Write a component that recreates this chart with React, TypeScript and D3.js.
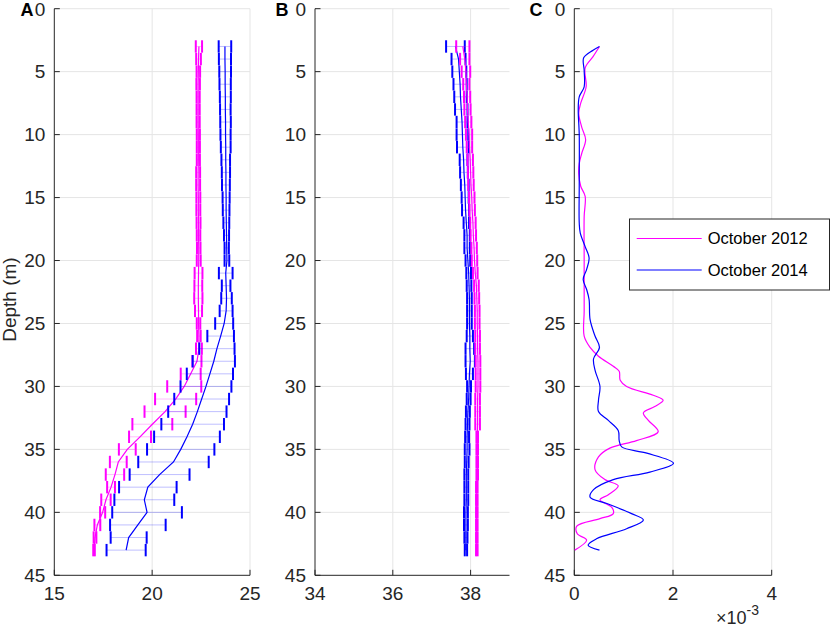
import * as d3 from "d3"
import { useEffect, useRef } from "react"

// depth of each profile bin (m)
const depths = [
  3, 4, 5, 6, 7, 8, 9, 10, 11, 12, 13, 14, 15, 16, 17, 18, 19, 20, 21, 22, 23,
  24, 25, 26, 27, 28, 29, 30, 31, 32, 33, 34, 35, 36, 37, 38, 39, 40, 41, 42, 43,
]

// A: temperature (mean and std) per depth
const temp2012 = [
  22.39, 22.37, 22.36, 22.35, 22.35, 22.35, 22.35, 22.36, 22.36, 22.36, 22.35,
  22.35, 22.36, 22.36, 22.37, 22.37, 22.38, 22.38, 22.37, 22.36, 22.36, 22.37,
  22.37, 22.39, 22.39, 22.29, 21.97, 21.64, 21.2, 20.66, 20.01, 19.38, 18.73,
  18.27, 18.1, 17.9, 17.64, 17.47, 17.2, 17.08, 17.03,
]
const tempSd2012 = [
  0.16, 0.12, 0.09, 0.09, 0.08, 0.08, 0.08, 0.08, 0.08, 0.08, 0.1, 0.1, 0.1,
  0.1, 0.1, 0.09, 0.09, 0.1, 0.2, 0.2, 0.21, 0.18, 0.09, 0.09, 0.15, 0.23, 0.51,
  0.87, 1.05, 1.05, 1.02, 0.56, 0.43, 0.43, 0.47, 0.2, 0.24, 0.13, 0.15, 0.07,
  0.04,
]
const temp2014 = [
  23.72, 23.72, 23.73, 23.73, 23.74, 23.74, 23.75, 23.75, 23.76, 23.76, 23.77,
  23.77, 23.78, 23.78, 23.79, 23.8, 23.81, 23.82, 23.76, 23.78, 23.8, 23.78,
  23.68, 23.5, 23.31, 23.15, 22.95, 22.75, 22.53, 22.31, 22.07, 21.78, 21.46,
  21.09, 20.38, 19.78, 19.6, 19.74, 19.27, 18.8, 18.67,
]
const tempSd2014 = [
  0.32, 0.31, 0.3, 0.29, 0.28, 0.27, 0.27, 0.26, 0.25, 0.22, 0.21, 0.2, 0.18,
  0.17, 0.15, 0.13, 0.11, 0.12, 0.35, 0.22, 0.27, 0.33, 0.46, 0.68, 0.9, 1.08,
  1.18, 1.3, 1.4, 1.49, 1.6, 1.68, 1.72, 1.8, 1.53, 1.47, 1.53, 1.78, 1.42,
  0.92, 1.0,
]

// B: salinity (mean and std) per depth
const sal2012 = [
  37.8, 37.85, 37.88, 37.89, 37.91, 37.92, 37.94, 37.96, 37.97, 37.99, 38.0,
  38.01, 38.03, 38.04, 38.06, 38.07, 38.09, 38.1, 38.12, 38.15, 38.16, 38.17,
  38.17, 38.18, 38.18, 38.19, 38.19, 38.19, 38.18, 38.18, 38.18, 38.17, 38.17,
  38.17, 38.17, 38.16, 38.16, 38.16, 38.16, 38.16, 38.16,
]
const salSd2012 = [
  0.17, 0.12, 0.11, 0.08, 0.08, 0.08, 0.08, 0.08, 0.07, 0.07, 0.07, 0.07, 0.07,
  0.07, 0.07, 0.07, 0.07, 0.07, 0.06, 0.06, 0.06, 0.06, 0.06, 0.06, 0.06, 0.06,
  0.06, 0.06, 0.06, 0.06, 0.06, 0.02, 0.02, 0.02, 0.02, 0.02, 0.02, 0.02, 0.02,
  0.02, 0.02,
]
const sal2014 = [
  37.61, 37.69, 37.71, 37.73, 37.74, 37.76, 37.78, 37.79, 37.8, 37.82, 37.83,
  37.85, 37.86, 37.87, 37.89, 37.91, 37.91, 37.93, 37.95, 37.96, 37.97, 37.97,
  37.97, 37.98, 37.98, 37.99, 37.97, 37.96, 37.95, 37.93, 37.92, 37.91, 37.91,
  37.9, 37.89, 37.89, 37.89, 37.88, 37.88, 37.88, 37.88,
]
const salSd2014 = [
  0.24, 0.18, 0.18, 0.17, 0.16, 0.16, 0.14, 0.15, 0.15, 0.1, 0.1, 0.1, 0.09,
  0.09, 0.07, 0.07, 0.07, 0.06, 0.06, 0.06, 0.06, 0.06, 0.06, 0.08, 0.11, 0.12,
  0.09, 0.05, 0.05, 0.05, 0.05, 0.05, 0.06, 0.05, 0.05, 0.05, 0.05, 0.05, 0.05,
  0.04, 0.03,
]

// C: smooth profiles (x10^-3), each with its own depths
const cDepth2012 = [
  3.0, 3.8, 4.7, 6.2, 7.5, 8.3, 9.4, 10.4, 11.5, 12.3, 13.1, 14.1, 14.9, 16.5,
  20, 24, 26, 26.9, 27.6, 28.4, 28.8, 29.5, 30, 30.7, 31.1, 31.6, 32.1, 32.7,
  33.6, 34.3, 34.9, 35.6, 36.6, 37.4, 37.9, 38.6, 39.0, 39.6, 40.1, 40.5, 41.1,
  41.7, 42.2, 43.0,
]
const cValue2012 = [
  0.51, 0.38, 0.22, 0.24, 0.13, 0.09, 0.15, 0.23, 0.15, 0.1, 0.09, 0.13, 0.22,
  0.2, 0.2, 0.2, 0.2, 0.32, 0.49, 0.79, 0.91, 0.93, 1.06, 1.6, 1.8, 1.63, 1.4,
  1.5, 1.7, 1.26, 0.72, 0.49, 0.42, 0.62, 0.89, 0.69, 0.52, 0.76, 0.79, 0.52,
  0.05, 0.06, 0.25, 0.01,
]
const cDepth2014 = [
  3.0, 3.3, 3.9, 4.9, 6.2, 7.0, 8.0, 10, 14, 17, 17.8, 18.9, 19.8, 20.7, 21.5,
  22.3, 23.1, 24.7, 26.0, 26.9, 27.8, 28.7, 30.0, 31.1, 32.0, 32.7, 33.5, 34.3,
  34.8, 35.3, 36.1, 36.8, 37.4, 38.2, 38.8, 39.3, 40.1, 40.6, 41.3, 42.1, 42.6,
  43.0,
]
const cValue2014 = [
  0.51, 0.38, 0.19, 0.2, 0.2, 0.1, 0.08, 0.1, 0.1, 0.1, 0.12, 0.22, 0.3, 0.25,
  0.18, 0.25, 0.3, 0.32, 0.42, 0.51, 0.39, 0.42, 0.52, 0.49, 0.49, 0.69, 0.89,
  0.91, 0.96, 1.47, 2.01, 1.53, 0.79, 0.39, 0.32, 0.66, 1.16, 1.4, 1.06, 0.45,
  0.28, 0.51,
]

const depthTicks = [0, 5, 10, 15, 20, 25, 30, 35, 40, 45]
const legendLabels = ["October 2012", "October 2014"]

const MAGENTA = "#ff00ff"
const BLUE = "#0000ff"
const INK = "#262626"
const GRID = "#e5e5e5"
const FONT = "'Liberation Sans', Arial, Helvetica, sans-serif"

const App = () => {
  const svgRef = useRef<SVGSVGElement>(null)

  useEffect(() => {
    if (!svgRef.current) return
    const svg = d3.select(svgRef.current)
    svg.selectAll("*").remove()

    const y = d3.scaleLinear().domain([0, 45]).range([8.7, 575.3])
    const bottom = y(45)

    const panels = [
      { letter: "A", left: 54.3, right: 250, domain: [15, 25], ticks: [15, 20, 25], lx: 27 },
      { letter: "B", left: 315, right: 509.5, domain: [34, 39], ticks: [34, 36, 38], lx: 282 },
      { letter: "C", left: 574.3, right: 771.7, domain: [0, 4], ticks: [0, 2, 4], lx: 536 },
    ]

    const scales = panels.map((p) => {
      const x = d3.scaleLinear().domain(p.domain).range([p.left, p.right])
      const g = svg.append("g")

      // grid
      g.selectAll(".gy")
        .data(depthTicks.filter((t) => t !== 45))
        .join("line")
        .attr("x1", p.left)
        .attr("x2", p.right)
        .attr("y1", (d) => y(d))
        .attr("y2", (d) => y(d))
        .attr("stroke", GRID)
        .attr("stroke-width", 1)
      g.selectAll(".gx")
        .data(p.ticks.filter((t) => t !== p.domain[0]))
        .join("line")
        .attr("x1", (d) => x(d))
        .attr("x2", (d) => x(d))
        .attr("y1", y(0))
        .attr("y2", bottom)
        .attr("stroke", GRID)
        .attr("stroke-width", 1)

      // axis lines
      g.append("line")
        .attr("x1", p.left).attr("x2", p.left)
        .attr("y1", y(0)).attr("y2", bottom)
        .attr("stroke", INK)
      g.append("line")
        .attr("x1", p.left).attr("x2", p.right)
        .attr("y1", bottom).attr("y2", bottom)
        .attr("stroke", INK)

      // ticks (inward)
      g.selectAll(".ty")
        .data(depthTicks)
        .join("line")
        .attr("x1", p.left)
        .attr("x2", p.left + 5.5)
        .attr("y1", (d) => y(d))
        .attr("y2", (d) => y(d))
        .attr("stroke", INK)
      g.selectAll(".tx")
        .data(p.ticks)
        .join("line")
        .attr("x1", (d) => x(d))
        .attr("x2", (d) => x(d))
        .attr("y1", bottom)
        .attr("y2", bottom - 5.5)
        .attr("stroke", INK)

      // tick labels
      g.selectAll(".ly")
        .data(depthTicks)
        .join("text")
        .attr("x", p.left - 9)
        .attr("y", (d) => y(d))
        .attr("dy", "0.36em")
        .attr("text-anchor", "end")
        .attr("font-family", FONT)
        .attr("font-size", 19)
        .attr("fill", INK)
        .text((d) => d)
      g.selectAll(".lx")
        .data(p.ticks)
        .join("text")
        .attr("x", (d) => x(d))
        .attr("y", bottom + 24.5)
        .attr("text-anchor", "middle")
        .attr("font-family", FONT)
        .attr("font-size", 19)
        .attr("fill", INK)
        .text((d) => d)

      // panel letter
      g.append("text")
        .attr("x", p.lx)
        .attr("y", 16)
        .attr("text-anchor", "middle")
        .attr("font-family", FONT)
        .attr("font-weight", "bold")
        .attr("font-size", 18)
        .attr("fill", "#000")
        .text(p.letter)

      return x
    })

    const drawErr = (
      x: d3.ScaleLinear<number, number>,
      mean: number[],
      sd: number[],
      color: string,
    ) => {
      const g = svg.append("g")
      const rows = depths.map((d, i) => ({ d, m: mean[i], s: sd[i] }))
      g.selectAll(".bar")
        .data(rows)
        .join("line")
        .attr("x1", (r) => x(r.m - r.s))
        .attr("x2", (r) => x(r.m + r.s))
        .attr("y1", (r) => y(r.d))
        .attr("y2", (r) => y(r.d))
        .attr("stroke", color)
        .attr("stroke-opacity", 0.25)
        .attr("stroke-width", 1)
      const caps = rows.flatMap((r) => [r.m - r.s, r.m + r.s].map((v) => ({ d: r.d, v })))
      g.selectAll(".cap")
        .data(caps)
        .join("line")
        .attr("x1", (c) => x(c.v))
        .attr("x2", (c) => x(c.v))
        .attr("y1", (c) => y(c.d) - 6.2)
        .attr("y2", (c) => y(c.d) + 6.2)
        .attr("stroke", color)
        .attr("stroke-width", 2)
      g.append("path")
        .datum(rows)
        .attr("fill", "none")
        .attr("stroke", color)
        .attr("stroke-width", 1.2)
        .attr(
          "d",
          d3
            .line<{ d: number; m: number }>()
            .x((r) => x(r.m))
            .y((r) => y(r.d)),
        )
    }

    drawErr(scales[0], temp2012, tempSd2012, MAGENTA)
    drawErr(scales[0], temp2014, tempSd2014, BLUE)
    drawErr(scales[1], sal2014, salSd2014, BLUE)
    drawErr(scales[1], sal2012, salSd2012, MAGENTA)

    // panel C curves
    const profile = d3
      .line<[number, number]>()
      .x((p) => scales[2](p[1]))
      .y((p) => y(p[0]))
      .curve(d3.curveCatmullRom.alpha(0.5))
    svg.append("path")
      .datum(cDepth2012.map((d, i) => [d, cValue2012[i]] as [number, number]))
      .attr("fill", "none")
      .attr("stroke", MAGENTA)
      .attr("stroke-width", 1.2)
      .attr("d", profile)
    svg.append("path")
      .datum(cDepth2014.map((d, i) => [d, cValue2014[i]] as [number, number]))
      .attr("fill", "none")
      .attr("stroke", BLUE)
      .attr("stroke-width", 1.2)
      .attr("d", profile)

    // y label
    svg.append("text")
      .attr("transform", `translate(16, ${y(23.1)}) rotate(-90)`)
      .attr("text-anchor", "middle")
      .attr("font-family", FONT)
      .attr("font-size", 19)
      .attr("fill", INK)
      .text("Depth (m)")

    // exponent label
    const ex = svg.append("text")
      .attr("x", 716)
      .attr("y", 624)
      .attr("font-family", FONT)
      .attr("font-size", 18)
      .attr("fill", INK)
    ex.append("tspan").text("\u00d710")
    ex.append("tspan").attr("dy", -9).attr("font-size", 14).text("-3")

    // legend
    const lg = svg.append("g")
    lg.append("rect")
      .attr("x", 629.5)
      .attr("y", 219)
      .attr("width", 200)
      .attr("height", 71)
      .attr("fill", "#fff")
      .attr("stroke", INK)
      .attr("stroke-width", 1)
    ;[MAGENTA, BLUE].forEach((c, i) => {
      const ly = 238.5 + i * 31.5
      lg.append("line")
        .attr("x1", 636.7).attr("x2", 701.7)
        .attr("y1", ly).attr("y2", ly)
        .attr("stroke", c)
        .attr("stroke-width", 1.2)
      lg.append("text")
        .attr("x", 707.7)
        .attr("y", ly)
        .attr("dy", "0.36em")
        .attr("font-family", FONT)
        .attr("font-size", 16.5)
        .attr("fill", "#000")
        .text(legendLabels[i])
    })
  }, [])

  return (
    <svg
      ref={svgRef}
      width={832}
      height={629}
      style={{ position: "absolute", left: 0, top: 0, background: "#fff" }}
    />
  )
}

export default App
